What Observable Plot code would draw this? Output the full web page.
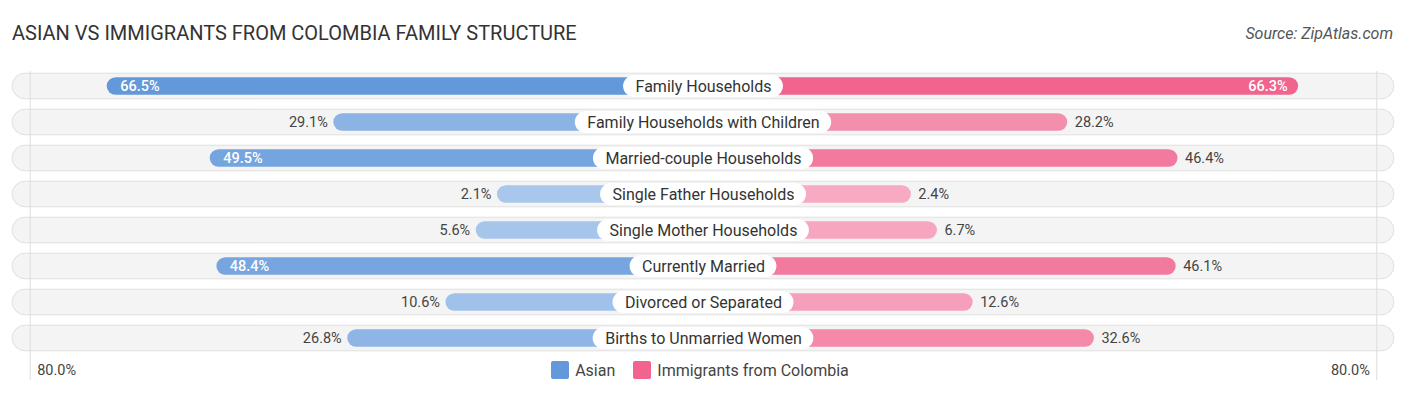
<!DOCTYPE html>
<html>
<head>
<meta charset="utf-8">
<script src="https://cdn.jsdelivr.net/npm/d3@7"></script>
<script src="https://cdn.jsdelivr.net/npm/@observablehq/plot@0.6"></script>
<style>
  html, body { margin: 0; padding: 0; background: #fff; }
  #wrap { position: relative; width: 1406px; height: 395px; font-family: Roboto, "Noto Sans", sans-serif; }
  #title { position: absolute; left: 12px; top: 21px; font-size: 20px; color: #333; }
  #source { position: absolute; right: 13px; top: 24px; font-size: 16px; font-style: italic; color: #555; }
  #chart { position: absolute; left: 0; top: 60px; }
  #legend { position: absolute; left: -3px; top: 360px; width: 1406px; height: 20px; display: flex; justify-content: center; align-items: center; font-size: 16px; color: #444; }
  .sw { display: inline-block; width: 18px; height: 18px; border-radius: 2px; margin-right: 6px; }
  .item { display: inline-flex; align-items: center; margin: 0 9px; }
</style>
</head>
<body>
<div id="wrap">
  <div id="title"></div>
  <div id="source"></div>
  <div id="chart"></div>
  <div id="legend"></div>
</div>
<script>
const titleText = "ASIAN VS IMMIGRANTS FROM COLOMBIA FAMILY STRUCTURE";
const sourceText = "Source: ZipAtlas.com";
const categories = [
  "Family Households",
  "Family Households with Children",
  "Married-couple Households",
  "Single Father Households",
  "Single Mother Households",
  "Currently Married",
  "Divorced or Separated",
  "Births to Unmarried Women"
];
const asian = [66.5, 29.1, 49.5, 2.1, 5.6, 48.4, 10.6, 26.8];
const colombia = [66.3, 28.2, 46.4, 2.4, 6.7, 46.1, 12.6, 32.6];
const seriesNames = ["Asian", "Immigrants from Colombia"];
const axisMax = 80;
const axisTickLabels = ["80.0%", "80.0%"];

// style constants
const W = 1406, H = 320;
const OFF = 31.9;          // bar offset (units) hidden behind center label
const DOM = 116;           // half-domain in units
const K = W / (2 * DOM);   // px per unit
const BG = 114;            // row background half-width in units
const GRID = 111.1;        // gridline position in units
const INSIDE = 47;         // labels of bars at least this long are drawn inside
const blueLight = "#abc9ed", blueDark = "#6398da";
const pinkLight = "#f7adc4", pinkDark = "#f0648e";

document.getElementById("title").textContent = titleText;
document.getElementById("source").textContent = sourceText;

const rows = categories.map((c, i) => ({cat: c, a: asian[i], b: colombia[i]}));
const maxV = d3.max([...asian, ...colombia]);
const blueC = d3.scaleLinear().domain([0, maxV]).range([blueLight, blueDark]);
const pinkC = d3.scaleLinear().domain([0, maxV]).range([pinkLight, pinkDark]);

const ctx = document.createElement("canvas").getContext("2d");
ctx.font = "16px Roboto";
const halfW = c => (ctx.measureText(c).width / 2 + 12) / K;

const fmt = v => v.toFixed(1) + "%";
const step = 36.3, y0 = 7;

const plot = Plot.plot({
  width: W,
  height: H,
  marginLeft: 0,
  marginRight: 0,
  marginTop: 11,
  marginBottom: 0,
  x: {domain: [-DOM, DOM], axis: null},
  y: {domain: categories, range: [y0, y0 + step * categories.length], padding: 0, axis: null},
  style: {fontFamily: "Roboto, sans-serif", background: "transparent"},
  marks: [
    Plot.barX(rows, {y: "cat", x1: -BG, x2: BG, fill: "#f4f4f4", stroke: "#e0e0e0", strokeWidth: 1, rx: 13, insetTop: 5.2, insetBottom: 5.2}),
    Plot.ruleX([-GRID, GRID], {stroke: "#dcdcdc", strokeWidth: 1}),
    Plot.barX(rows, {y: "cat", x1: 0, x2: d => -(d.a + OFF), fill: d => blueC(d.a), rx: 9, insetTop: 9.15, insetBottom: 9.15}),
    Plot.barX(rows, {y: "cat", x1: 0, x2: d => d.b + OFF, fill: d => pinkC(d.b), rx: 9, insetTop: 9.15, insetBottom: 9.15}),
    Plot.barX(rows, {y: "cat", x1: d => -halfW(d.cat), x2: d => halfW(d.cat), fill: "white", rx: 11.5, insetTop: 6.9, insetBottom: 6.9}),
    Plot.text(rows, {y: "cat", x: 0, text: "cat", fontSize: 16, fill: "#333"}),
    // Asian labels
    Plot.text(rows.filter(d => d.a < INSIDE), {y: "cat", x: d => -(d.a + OFF), text: d => fmt(d.a), dx: -6, textAnchor: "end", fontSize: 14.5, fill: "#444"}),
    Plot.text(rows.filter(d => d.a >= INSIDE), {y: "cat", x: d => -(d.a + OFF), text: d => fmt(d.a), dx: 13, textAnchor: "start", fontSize: 14.5, fill: "white", fontWeight: 500}),
    // Colombia labels
    Plot.text(rows.filter(d => d.b < INSIDE), {y: "cat", x: d => d.b + OFF, text: d => fmt(d.b), dx: 7, textAnchor: "start", fontSize: 14.5, fill: "#444"}),
    Plot.text(rows.filter(d => d.b >= INSIDE), {y: "cat", x: d => d.b + OFF, text: d => fmt(d.b), dx: -11, textAnchor: "end", fontSize: 14.5, fill: "white", fontWeight: 500}),
    // axis tick labels
    Plot.text([axisTickLabels[0]], {x: -GRID, text: d => d, frameAnchor: "bottom", lineAnchor: "middle", dy: -10, dx: 7, textAnchor: "start", fontSize: 14.5, fill: "#444"}),
    Plot.text([axisTickLabels[1]], {x: GRID, text: d => d, frameAnchor: "bottom", lineAnchor: "middle", dy: -10, dx: -7, textAnchor: "end", fontSize: 14.5, fill: "#444"})
  ]
});
document.getElementById("chart").appendChild(plot);

const legend = document.getElementById("legend");
[[seriesNames[0], blueDark], [seriesNames[1], pinkDark]].forEach(([name, col]) => {
  const it = document.createElement("span");
  it.className = "item";
  const sw = document.createElement("span");
  sw.className = "sw";
  sw.style.background = col;
  it.appendChild(sw);
  it.appendChild(document.createTextNode(name));
  legend.appendChild(it);
});
</script>
</body>
</html>
